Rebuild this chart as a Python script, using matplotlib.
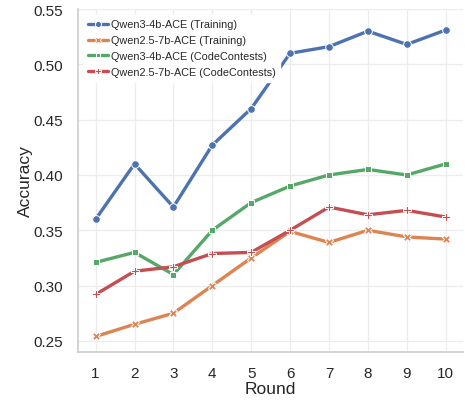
import matplotlib
matplotlib.use("Agg")
import matplotlib.pyplot as plt
import seaborn as sns

rounds = [1, 2, 3, 4, 5, 6, 7, 8, 9, 10]

qwen3_train = [0.360, 0.410, 0.371, 0.427, 0.460, 0.510, 0.516, 0.530, 0.518, 0.531]
qwen25_train = [0.254, 0.265, 0.275, 0.300, 0.325, 0.349, 0.339, 0.350, 0.344, 0.342]
qwen3_cc = [0.321, 0.330, 0.310, 0.350, 0.375, 0.390, 0.400, 0.405, 0.400, 0.410]
qwen25_cc = [0.292, 0.313, 0.317, 0.329, 0.330, 0.350, 0.371, 0.364, 0.368, 0.362]

labels = ["Qwen3-4b-ACE (Training)", "Qwen2.5-7b-ACE (Training)",
          "Qwen3-4b-ACE (CodeContests)", "Qwen2.5-7b-ACE (CodeContests)"]
series = [qwen3_train, qwen25_train, qwen3_cc, qwen25_cc]

sns.set_theme(style="whitegrid")
plt.rcParams['font.family'] = ['Liberation Sans', 'DejaVu Sans']

palette = sns.color_palette("deep")
markers = ["o", "X", "s", "P"]
msizes = [5.5, 5.5, 4.2, 6]

fig = plt.figure(figsize=(4.65, 4.02), dpi=100)
ax = fig.add_axes([0.168, 0.122, 0.828, 0.853])

for vals, lab, col, mk, ms in zip(series, labels, palette, markers, msizes):
    ax.plot(rounds, vals, color=col, linewidth=2.4, marker=mk, markersize=ms,
            markeredgecolor="white", markeredgewidth=0.7, label=lab)

ax.set_xticks(rounds)
ax.set_xlim(0.55, 10.45)
ax.set_ylim(0.24, 0.55)
ax.set_yticks([0.25, 0.30, 0.35, 0.40, 0.45, 0.50, 0.55])
ax.set_yticklabels(["0.25", "0.30", "0.35", "0.40", "0.45", "0.50", "0.55"])
ax.tick_params(axis="x", labelsize=11, colors="#262626", pad=4)
ax.tick_params(axis="y", labelsize=11, colors="#262626", pad=5)

ax.set_xlabel("Round", fontsize=12.5, color="#262626", labelpad=1)
ax.set_ylabel("Accuracy", fontsize=12.5, color="#262626", labelpad=0)

ax.grid(True, color="#ececec", linewidth=0.9)
for side in ["top", "right"]:
    ax.spines[side].set_visible(False)
for side in ["left", "bottom"]:
    ax.spines[side].set_color("#cccccc")
    ax.spines[side].set_linewidth(1.2)

ax.legend(loc="upper left", fontsize=7.8, frameon=True, facecolor="white",
          edgecolor="white", framealpha=1, handlelength=1.8, handletextpad=0.3,
          labelspacing=0.55, borderaxespad=0.55, markerscale=0.8)

fig.savefig("out.png", dpi=100)
